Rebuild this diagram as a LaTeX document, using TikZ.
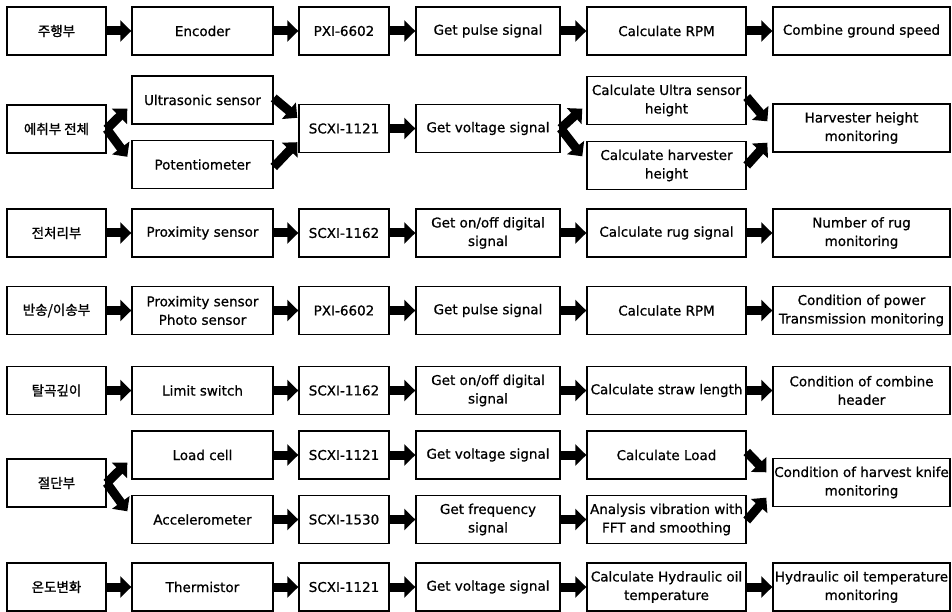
\documentclass[tikz,border=0pt]{standalone}
\usepackage{fontspec}
\setmainfont[FakeBold=0.8]{DejaVu Sans}
\newfontfamily\kr[FakeBold=1.2]{Noto Sans CJK KR}
\usetikzlibrary{arrows.meta}
\begin{document}
\begin{tikzpicture}[x=1pt,y=-1pt,
  box/.style={draw, line width=1.4pt, minimum height=48pt, inner sep=0pt, align=center, font=\fontsize{13.5}{18.5}\selectfont},
  w1/.style={box, minimum width=99pt, font=\kr\fontsize{13.5}{18.5}\selectfont},
  w2/.style={box, minimum width=141pt},
  w3/.style={box, minimum width=90pt},
  w4/.style={box, minimum width=144pt},
  w5/.style={box, minimum width=159pt},
  w6/.style={box, minimum width=177pt},
  blk/.style={line width=9pt, -{Triangle[length=11pt,width=21pt]}},
]
\useasboundingbox (0,0) rectangle (952,612);
% column centres: 56.5, 202.5, 344, 488, 666.5, 861.5
% Row 1
\node[w1] (a1) at (56.5,31) {주행부};
\node[w2] (a2) at (202.5,31) {Encoder};
\node[w3] (a3) at (344,31) {PXI-6602};
\node[w4] (a4) at (488,31) {Get pulse signal};
\node[w5] (a5) at (666.5,31) {Calculate RPM};
\node[w6] (a6) at (861.5,31) {Combine ground speed};
\draw[blk] (a1) -- (a2);
\draw[blk] (a2) -- (a3);
\draw[blk] (a3) -- (a4);
\draw[blk] (a4) -- (a5);
\draw[blk] (a5) -- (a6);
% Row 2
\node[w1] (b1) at (56.5,129) {에취부 전체};
\node[w2] (b2u) at (202.5,100) {Ultrasonic sensor};
\node[w2] (b2l) at (202.5,164.5) {Potentiometer};
\node[w3] (b3) at (344,128.5) {SCXI-1121};
\node[w4] (b4) at (488,128.5) {Get voltage signal};
\node[w5] (b5u) at (666.5,100.5) {Calculate Ultra sensor\\height};
\node[w5] (b5l) at (666.5,165.5) {Calculate harvester\\height};
\node[w6] (b6) at (861.5,128) {Harvester height\\monitoring};
\draw[blk] (b1.east) -- ([xshift=-4pt,yshift=16pt]b2u.south west);
\draw[blk] (b1.east) -- ([xshift=-4pt,yshift=-17pt]b2l.north west);
\draw[blk] ([yshift=2pt]b2u.east) -- ([xshift=-1pt,yshift=-14pt]b3.north west);
\draw[blk] ([yshift=-2.5pt]b2l.east) -- ([xshift=-1pt,yshift=11pt]b3.south west);
\draw[blk] (b3) -- (b4);
\draw[blk] (b4.east) -- ([xshift=-4pt,yshift=16.5pt]b5u.south west);
\draw[blk] (b4.east) -- ([xshift=-4pt,yshift=-15.5pt]b5l.north west);
\draw[blk] ([yshift=3.5pt]b5u.east) -- ([xshift=-5pt,yshift=-18pt]b6.north west);
\draw[blk] (b5l.east) -- ([xshift=-5pt,yshift=10pt]b6.south west);
% Row 3
\node[w1] (c1) at (56.5,233) {전처리부};
\node[w2] (c2) at (202.5,233) {Proximity sensor};
\node[w3] (c3) at (344,233) {SCXI-1162};
\node[w4] (c4) at (488,233) {Get on/off digital\\signal};
\node[w5] (c5) at (666.5,233) {Calculate rug signal};
\node[w6] (c6) at (861.5,233) {Number of rug\\monitoring};
\draw[blk] (c1) -- (c2);
\draw[blk] (c2) -- (c3);
\draw[blk] (c3) -- (c4);
\draw[blk] (c4) -- (c5);
\draw[blk] (c5) -- (c6);
% Row 4
\node[w1] (d1) at (56.5,310.5) {반송/이송부};
\node[w2] (d2) at (202.5,310.5) {Proximity sensor\\Photo sensor};
\node[w3] (d3) at (344,310.5) {PXI-6602};
\node[w4] (d4) at (488,310.5) {Get pulse signal};
\node[w5] (d5) at (666.5,310.5) {Calculate RPM};
\node[w6] (d6) at (861.5,310.5) {Condition of power\\Transmission monitoring};
\draw[blk] (d1) -- (d2);
\draw[blk] (d2) -- (d3);
\draw[blk] (d3) -- (d4);
\draw[blk] (d4) -- (d5);
\draw[blk] (d5) -- (d6);
% Row 5
\node[w1] (e1) at (56.5,390.5) {탈곡깊이};
\node[w2] (e2) at (202.5,390.5) {Limit switch};
\node[w3] (e3) at (344,390.5) {SCXI-1162};
\node[w4] (e4) at (488,390.5) {Get on/off digital\\signal};
\node[w5] (e5) at (666.5,390.5) {Calculate straw length};
\node[w6] (e6) at (861.5,390.5) {Condition of combine\\header};
\draw[blk] (e1) -- (e2);
\draw[blk] (e2) -- (e3);
\draw[blk] (e3) -- (e4);
\draw[blk] (e4) -- (e5);
\draw[blk] (e5) -- (e6);
% Row 6
\node[w1] (f1) at (56.5,483) {절단부};
\node[w2] (f2u) at (202.5,455) {Load cell};
\node[w2] (f2l) at (202.5,519.5) {Accelerometer};
\node[w3] (f3u) at (344,455) {SCXI-1121};
\node[w3] (f3l) at (344,519.5) {SCXI-1530};
\node[w4] (f4u) at (488,455) {Get voltage signal};
\node[w4] (f4l) at (488,519.5) {Get frequency\\signal};
\node[w5] (f5u) at (666.5,455) {Calculate Load};
\node[w5] (f5l) at (666.5,519.5) {Analysis vibration with\\FFT and smoothing};
\node[w6] (f6) at (861.5,482.5) {Condition of harvest knife\\monitoring};
\draw[blk] (f1.east) -- ([xshift=-4pt,yshift=17pt]f2u.south west);
\draw[blk] (f1.east) -- ([xshift=-4pt,yshift=-16.5pt]f2l.north west);
\draw[blk] (f2u) -- (f3u);
\draw[blk] (f3u) -- (f4u);
\draw[blk] (f4u) -- (f5u);
\draw[blk] (f2l) -- (f3l);
\draw[blk] (f3l) -- (f4l);
\draw[blk] (f4l) -- (f5l);
\draw[blk] ([yshift=3pt]f5u.east) -- ([xshift=-6pt,yshift=-14.5pt]f6.north west);
\draw[blk] ([yshift=-1pt]f5l.east) -- ([xshift=-6pt,yshift=9.5pt]f6.south west);
% Row 7
\node[w1] (g1) at (56.5,587) {온도변화};
\node[w2] (g2) at (202.5,587) {Thermistor};
\node[w3] (g3) at (344,587) {SCXI-1121};
\node[w4] (g4) at (488,587) {Get voltage signal};
\node[w5] (g5) at (666.5,587) {Calculate Hydraulic oil\\temperature};
\node[w6] (g6) at (861.5,587) {Hydraulic oil temperature\\monitoring};
\draw[blk] (g1) -- (g2);
\draw[blk] (g2) -- (g3);
\draw[blk] (g3) -- (g4);
\draw[blk] (g4) -- (g5);
\draw[blk] (g5) -- (g6);
\end{tikzpicture}
\end{document}
